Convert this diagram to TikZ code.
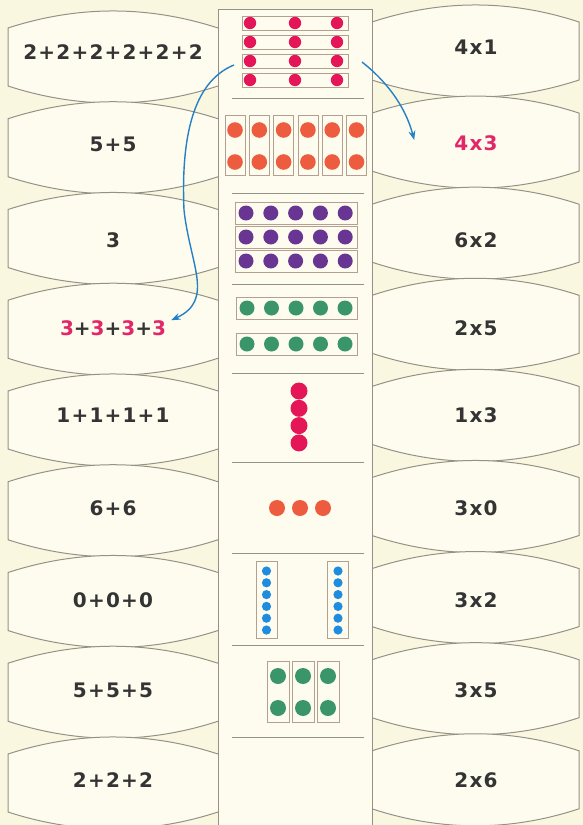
\documentclass[tikz,border=0pt]{standalone}
\usepackage{fontspec}
\newfontfamily\cardfont[LetterSpace=6]{DejaVu Sans}
\usetikzlibrary{arrows.meta}

\definecolor{paper}{RGB}{250,247,225}
\definecolor{cardFill}{RGB}{253,252,238}
\definecolor{cardLine}{RGB}{150,145,134}
\definecolor{boxLine}{RGB}{180,160,145}
\definecolor{txtGray}{RGB}{52,52,52}
\definecolor{txtRed}{RGB}{226,38,104}
\definecolor{dotRed}{RGB}{228,22,88}
\definecolor{dotOrange}{RGB}{238,92,64}
\definecolor{dotPurple}{RGB}{104,54,146}
\definecolor{dotGreen}{RGB}{58,150,106}
\definecolor{dotBlue}{RGB}{32,140,222}
\definecolor{linkBlue}{RGB}{38,128,198}
\newcommand{\hilite}[1]{\textcolor{txtRed}{#1}}

\begin{document}
\begin{tikzpicture}[x=1pt, y=-1pt, >=Stealth,
  card/.style={fill=cardFill, draw=cardLine, line width=1pt},
  box/.style={draw=boxLine, line width=0.7pt},
  sum/.style={font=\cardfont\bfseries\fontsize{20}{24}\selectfont, text=txtGray, inner sep=0pt},
  link/.style={->, draw=linkBlue, line width=1.4pt}]

  \useasboundingbox (0,0) rectangle (583,825);
  \fill[paper] (0,0) rectangle (583,825);

  % cards on the left
  \foreach \i in {0,...,8} {
    \pgfmathsetmacro\c{57+90.75*\i}
    \path[card] (218,\c-29) .. controls (148,\c-51.7) and (78,\c-51.7) .. (8,\c-29)
      -- (8,\c+29) .. controls (78,\c+51.7) and (148,\c+51.7) .. (218,\c+29);
  }
  % cards on the right
  \foreach \i in {0,...,8} {
    \pgfmathsetmacro\c{51+91.1*\i}
    \path[card] (372,\c-29) .. controls (441,\c-51.7) and (510,\c-51.7) .. (579,\c-29)
      -- (579,\c+29) .. controls (510,\c+51.7) and (441,\c+51.7) .. (372,\c+29);
  }

  % middle strip
  \path[card] (218,826) -- (218,9) -- (372,9) -- (372,826);
  \foreach \y in {98,193,284,373,462,553,645,737}
    \draw[cardLine, line width=1pt] (232,\y) -- (364,\y);

  % 4 rows of 3
  \foreach \r in {0,...,3} {
    \draw[box] (242,{16+19*\r}) rectangle (348,{30+19*\r});
    \foreach \x in {250,295,337}
      \fill[dotRed] (\x,{23+19*\r}) circle[radius=6.2];
  }
  % 6 columns of 2
  \foreach \k in {0,...,5} {
    \draw[box] ({225+24.3*\k},115) rectangle ({245+24.3*\k},175);
    \foreach \y in {130,162}
      \fill[dotOrange] ({235+24.3*\k},\y) circle[radius=7.8];
  }
  % 3 rows of 5
  \foreach \y in {213,237,261} {
    \draw[box] (235,\y-11) rectangle (357,\y+11);
    \foreach \k in {0,...,4}
      \fill[dotPurple] ({246+24.8*\k},\y) circle[radius=7.5];
  }
  % 2 rows of 5
  \foreach \y in {308,344} {
    \draw[box] (236,\y-11) rectangle (357,\y+11);
    \foreach \k in {0,...,4}
      \fill[dotGreen] ({247+24.5*\k},\y) circle[radius=7.5];
  }
  % 4 in a column
  \foreach \k in {0,...,3}
    \fill[dotRed] (299,{391+17.3*\k}) circle[radius=8.5];
  % 3 in a row
  \foreach \x in {277,300,323}
    \fill[dotOrange] (\x,508) circle[radius=8];
  % 2 columns of 6
  \foreach \x in {266.5,338} {
    \draw[box] (\x-10.5,561) rectangle (\x+10.5,638);
    \foreach \k in {0,...,5}
      \fill[dotBlue] (\x,{571+11.8*\k}) circle[radius=4.6];
  }
  % 3 columns of 2
  \foreach \x in {278,303,328} {
    \draw[box] (\x-11,661) rectangle (\x+11,722);
    \foreach \y in {676,708}
      \fill[dotGreen] (\x,\y) circle[radius=8];
  }

  % sums and products
  \foreach \y/\expr [count=\n] in {52/2+2+2+2+2+2, 144/5+5, 240/3,
      328/\hilite{3}+\hilite{3}+\hilite{3}+\hilite{3}, 415/1+1+1+1,
      508/6+6, 600/0+0+0, 690/5+5+5, 780/2+2+2}
    \node[sum] (sum\n) at (113,\y) {\expr};
  \foreach \y/\expr [count=\n] in {47/4x1, 143/\hilite{4x3}, 240/6x2, 328/2x5,
      415/1x3, 508/3x0, 600/3x2, 690/3x5, 780/2x6}
    \node[sum] (prod\n) at (476,\y) {\expr};

  \coordinate (rowsL) at (234,65);
  \coordinate (rowsR) at (362,62);
  \draw[link] (rowsL) .. controls (192,82) and (181,140) .. (184,210)
    .. controls (190,265) and (215,300) .. ([xshift=5pt]sum4.north east);
  \draw[link] (rowsR) .. controls (385,80) and (405,105) .. ([shift={(-40pt,3pt)}]prod2.west);
\end{tikzpicture}
\end{document}
